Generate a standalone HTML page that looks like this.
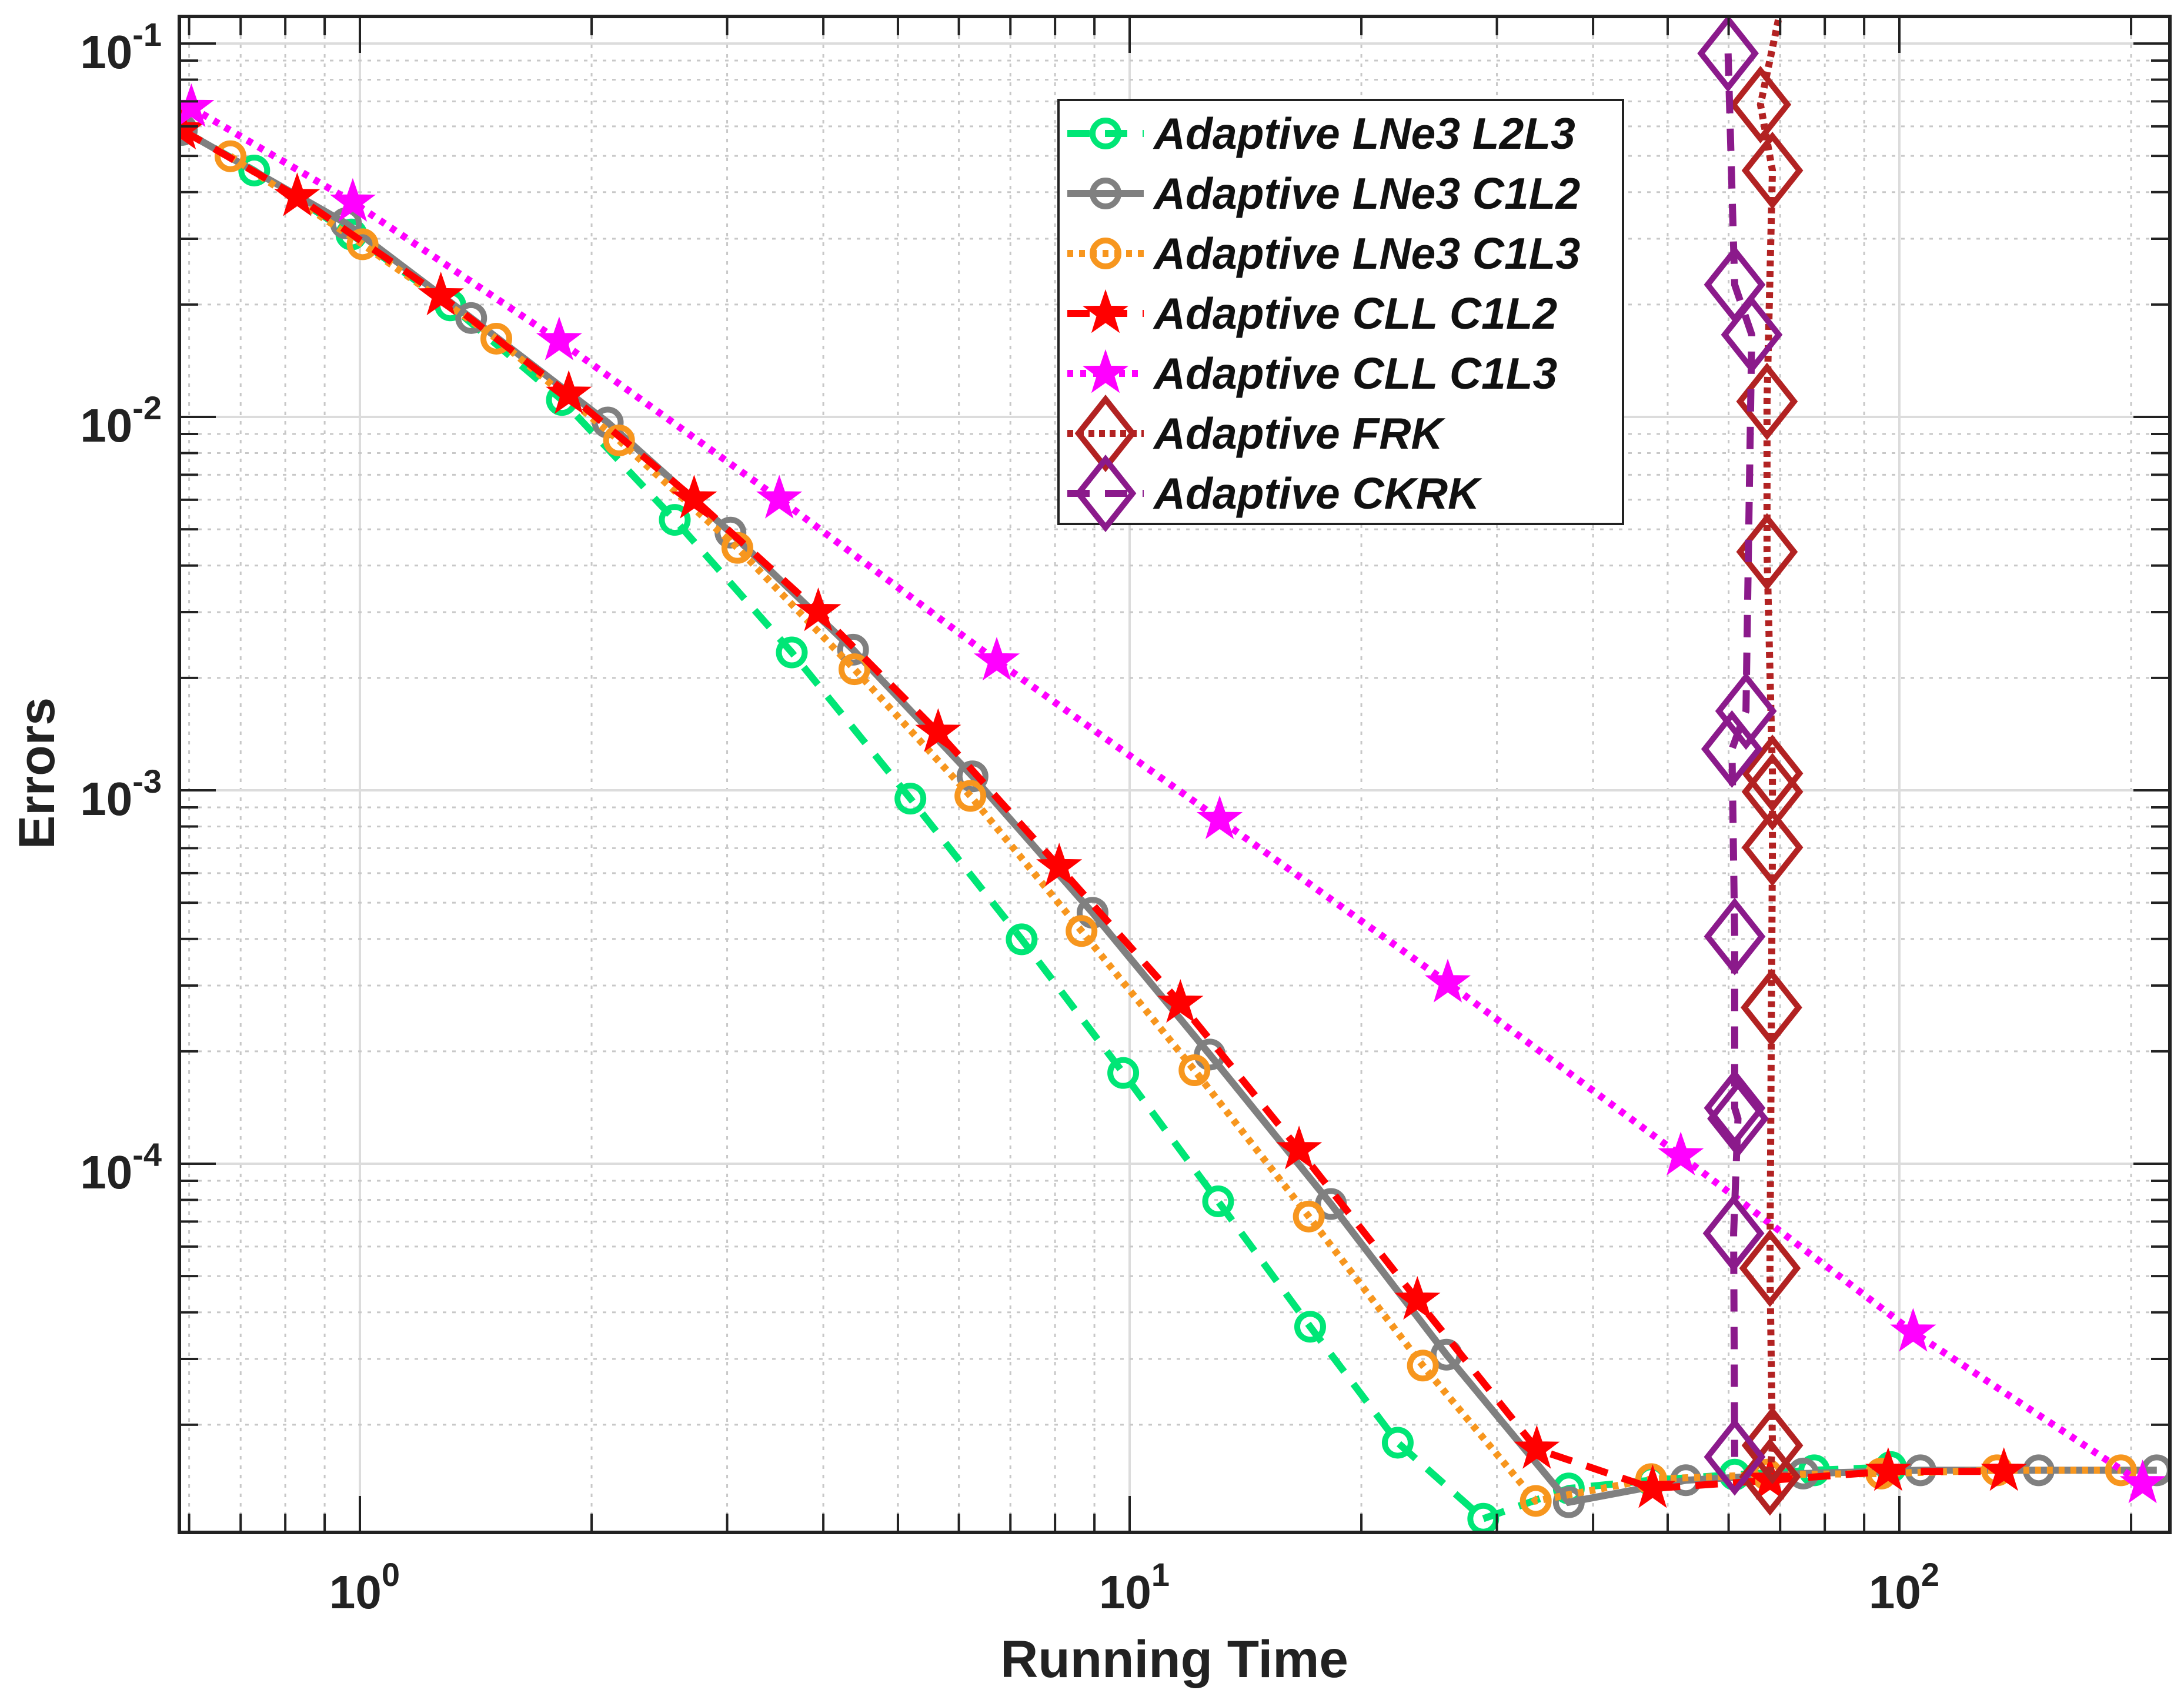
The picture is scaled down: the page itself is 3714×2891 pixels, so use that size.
<!DOCTYPE html>
<html><head><meta charset="utf-8"><style>
html,body{margin:0;padding:0;background:#fff;}
svg{display:block;font-family:"Liberation Sans",Arial,sans-serif;}
</style></head><body>
<svg id="chart" xmlns="http://www.w3.org/2000/svg" width="3714" height="2891" viewBox="0 0 3714 2891">
<rect width="3714" height="2891" fill="#fff"/>
<defs><clipPath id="clip"><rect x="305" y="28" width="3385" height="2578"/></clipPath></defs>
<g id="grid"></g>
<g id="series" clip-path="url(#clip)"></g>
<g id="axes"></g>
<g id="legend"></g>
</svg>
<script>
const xTickValues = [1, 10, 100];
const xTickLabels = ["0", "1", "2"];
const yTickValues = [0.1, 0.01, 0.001, 0.0001];
const yTickLabels = ["-1", "-2", "-3", "-4"];

const l2l3X = [0.587,0.729,0.975,1.311,1.830,2.565,3.640,5.19,7.24,9.81,13.03,17.16,22.3,28.8,37.2,47.6,61.1,77.5,97.5];
const l2l3Y = [0.0587,0.0457,0.0308,0.0199,0.0111,0.00530,0.00234,0.000950,0.000399,0.000175,7.93e-5,3.66e-5,1.79e-5,1.12e-5,1.35e-5,1.42e-5,1.47e-5,1.51e-5,1.54e-5];
const c1l2X = [0.587,0.959,1.395,2.099,3.030,4.372,6.25,8.95,12.71,18.26,25.8,37.2,52.8,75.0,106.5,151.7,216];
const c1l2Y = [0.0587,0.0330,0.0184,0.00966,0.00490,0.00238,0.00109,0.000470,0.000196,7.80e-5,3.08e-5,1.24e-5,1.42e-5,1.48e-5,1.51e-5,1.51e-5,1.51e-5];
const c1l3X = [0.679,1.008,1.504,2.171,3.093,4.390,6.21,8.66,12.14,17.09,24.04,33.7,47.6,67.3,94.7,133.9,194];
const c1l3Y = [0.0499,0.0290,0.0162,0.00865,0.00446,0.00211,0.000966,0.000420,0.000178,7.22e-5,2.88e-5,1.25e-5,1.43e-5,1.47e-5,1.48e-5,1.51e-5,1.51e-5];
const cllC1l2X = [0.587,0.829,1.274,1.868,2.718,3.940,5.64,8.10,11.64,16.6,23.65,33.8,47.8,67.9,96.7,136.7];
const cllC1l2Y = [0.0587,0.0389,0.0211,0.0115,0.00603,0.00301,0.00143,0.000624,0.000269,0.000109,4.31e-5,1.72e-5,1.35e-5,1.42e-5,1.50e-5,1.50e-5];
const cllC1l3X = [0.604,0.979,1.815,3.506,6.72,13.09,25.9,52.0,104.2,207];
const cllC1l3Y = [0.0674,0.0376,0.0160,0.00603,0.00222,0.000835,0.000305,0.000105,3.54e-5,1.39e-5];
const frkX = [71,66,68.4,67.3,67.3,68.4,68.4,68.4,68.2,67.9,68.4,67.9];
const frkY = [0.14,0.0686,0.0457,0.0110,0.00435,0.00111,0.000991,0.000703,0.000262,5.25e-5,1.76e-5,1.45e-5];
const frkMarked = [false,true,true,true,true,true,true,true,true,true,true,true];
const ckrkX = [59.9,61.1,64.3,63.2,60.6,61.1,61.1,61.7,60.9,61.1];
const ckrkY = [0.0941,0.0226,0.0166,0.00163,0.00129,0.000406,0.000141,0.000132,6.51e-5,1.64e-5];

const L=305,R=3690,T=28,B=2606;
const X = v => 612 + 1309*Math.log10(v);
const Y = v => 74 - 635*(Math.log10(v)+1);
const NS="http://www.w3.org/2000/svg";
function mk(tag, attrs, parent){const e=document.createElementNS(NS,tag);for(const k in attrs)e.setAttribute(k,attrs[k]);parent.appendChild(e);return e;}
const grid=document.getElementById('grid'), axes=document.getElementById('axes'), ser=document.getElementById('series'), leg=document.getElementById('legend');

for(let d=-1; d<=2; d++){
  for(let m=1;m<=9;m++){
    const v=m*Math.pow(10,d); const x=X(v);
    if(x<L||x>R) continue;
    const major=(m===1);
    const g=mk('line',{x1:x,x2:x,y1:T,y2:B,stroke:major?'#dcdcdc':'#c8c8c8','stroke-width':major?4:3,'stroke-dasharray':major?'':'6 10'},grid);
    
    
    const len=major?62:32;
    mk('line',{x1:x,x2:x,y1:B,y2:B-len,stroke:'#222','stroke-width':4},axes);
    mk('line',{x1:x,x2:x,y1:T,y2:T+len,stroke:'#222','stroke-width':4},axes);
  }
}
for(let d=-6; d<=-1; d++){
  for(let m=1;m<=9;m++){
    const v=m*Math.pow(10,d); const y=Y(v);
    if(y<T||y>B) continue;
    const major=(m===1);
    const g=mk('line',{x1:L,x2:R,y1:y,y2:y,stroke:major?'#dcdcdc':'#c8c8c8','stroke-width':major?4:3,'stroke-dasharray':major?'':'6 10'},grid);
    
    
    const len=major?62:32;
    mk('line',{x1:L,x2:L+len,y1:y,y2:y,stroke:'#222','stroke-width':4},axes);
    mk('line',{x1:R,x2:R-len,y1:y,y2:y,stroke:'#222','stroke-width':4},axes);
  }
}
const frame=mk('rect',{x:L,y:T,width:R-L,height:B-T,fill:'none',stroke:'#222','stroke-width':6},axes);



xTickValues.forEach((v,i)=>{
  const t=mk('text',{x:X(v)+8,y:2735,'text-anchor':'middle','font-size':80,'font-weight':'bold',fill:'#222'},axes);
  
  
  t.innerHTML='10<tspan dy="-38" font-size="56">'+xTickLabels[i]+'</tspan>';
});
yTickValues.forEach((v,i)=>{
  const t=mk('text',{x:275,y:Y(v)+42,'text-anchor':'end','font-size':80,'font-weight':'bold',fill:'#222'},axes);
  
  
  t.innerHTML='10<tspan dy="-38" font-size="56">'+yTickLabels[i]+'</tspan>';
});
const xt=mk('text',{x:1997,y:2852,'text-anchor':'middle','font-size':89,'font-weight':'bold',fill:'#222'},axes);


xt.textContent='Running Time';
const yt=mk('text',{x:92,y:1315,'text-anchor':'middle','font-size':86,'font-weight':'bold',fill:'#222',transform:'rotate(-90 92 1315)'},axes);


yt.textContent='Errors';

function circle(cx,cy,c,p){return mk('circle',{cx:cx,cy:cy,r:22,fill:'none',stroke:c,'stroke-width':10},p);}
function star(cx,cy,c,p){let pts=[];for(let k=0;k<10;k++){const r=(k%2)?15:38;const a=-Math.PI/2+k*Math.PI/5;pts.push((cx+r*Math.cos(a)).toFixed(1)+','+(cy+r*Math.sin(a)).toFixed(1));}return mk('polygon',{points:pts.join(' '),fill:c,stroke:c,'stroke-width':2},p);}
function diamond(cx,cy,c,p){return mk('polygon',{points:`${cx},${cy-58} ${cx+46},${cy} ${cx},${cy+58} ${cx-46},${cy}`,fill:'none',stroke:c,'stroke-width':10},p);}

const series=[
 {name:'Adaptive LNe3 L2L3',xs:l2l3X,ys:l2l3Y,c:'#00e676',dash:'38 26',m:circle,id:'lne3-l2l3'},
 {name:'Adaptive LNe3 C1L2',xs:c1l2X,ys:c1l2Y,c:'#808080',dash:'',m:circle,id:'lne3-c1l2'},
 {name:'Adaptive LNe3 C1L3',xs:c1l3X,ys:c1l3Y,c:'#f7961e',dash:'10 10',m:circle,id:'lne3-c1l3'},
 {name:'Adaptive CLL C1L2',xs:cllC1l2X,ys:cllC1l2Y,c:'#ff0000',dash:'38 26',m:star,id:'cll-c1l2'},
 {name:'Adaptive CLL C1L3',xs:cllC1l3X,ys:cllC1l3Y,c:'#ff00ff',dash:'10 12',m:star,id:'cll-c1l3'},
 {name:'Adaptive FRK',xs:frkX,ys:frkY,c:'#b22222',dash:'10 8',m:diamond,id:'frk',marked:frkMarked},
 {name:'Adaptive CKRK',xs:ckrkX,ys:ckrkY,c:'#8b1a8b',dash:'38 26',m:diamond,id:'ckrk'}
];
series.forEach(s=>{
  const g=mk('g',{},ser);
  
  
  const pts=s.xs.map((x,i)=>X(x).toFixed(1)+','+Y(s.ys[i]).toFixed(1)).join(' ');
  const pl=mk('polyline',{points:pts,fill:'none',stroke:s.c,'stroke-width':12,'stroke-dasharray':s.dash},g);
  
  
  s.xs.forEach((x,i)=>{
    if(s.marked && !s.marked[i]) return;
    const e=s.m(X(x),Y(s.ys[i]),s.c,g);
    
    
  });
});

const lb=mk('rect',{x:1800,y:170,width:960,height:721,fill:'#fff',stroke:'#222','stroke-width':4},leg);


series.forEach((s,i)=>{
  const y=227+i*102;
  const g=mk('g',{},leg);
  
  
  mk('line',{x1:1815,x2:1945,y1:y,y2:y,stroke:s.c,'stroke-width':12,'stroke-dasharray':s.dash},g);
  s.m(1880,y,s.c,g);
  const t=mk('text',{x:1962,y:y+26,'font-size':75,'font-weight':'bold','font-style':'italic',fill:'#111'},g);
  t.textContent=s.name;
});
</script>
</body></html>
